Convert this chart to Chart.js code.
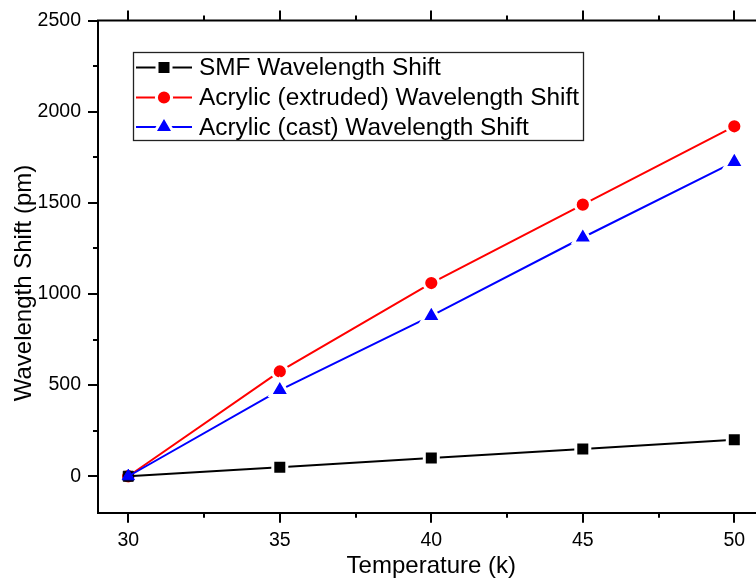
<!DOCTYPE html>
<html><head><meta charset="utf-8">
<script src="https://cdn.jsdelivr.net/npm/chart.js@4/dist/chart.umd.min.js"></script>
<style>
html,body{margin:0;padding:0;background:#fff;overflow:hidden;}
#wrap{position:relative;width:780px;height:580px;}
</style></head><body>
<div id="wrap"><canvas id="c" width="780" height="580"></canvas></div>
<script>
// ---- data ----
const temperatures = [30, 35, 40, 45, 50];
const smfShift = [0, 50, 100, 150, 200];
const extrudedShift = [0, 575, 1060, 1490, 1920];
const castShift = [0, 473, 880, 1310, 1725];
const xTickValues = [30, 35, 40, 45, 50];
const yTickValues = [0, 500, 1000, 1500, 2000, 2500];
const seriesNames = ['SMF Wavelength Shift', 'Acrylic (extruded) Wavelength Shift', 'Acrylic (cast) Wavelength Shift'];
const xTitle = 'Temperature (k)';
const yTitle = 'Wavelength Shift (pm)';

const FONT = '"Liberation Sans", Arial, sans-serif';
Chart.defaults.font.family = FONT;
Chart.defaults.color = '#000';

const toPts = arr => temperatures.map((t, i) => ({x: t, y: arr[i]}));

const styles = [
  {color: '#000000', style: 'rect', rGap: 9.9, rPlain: 7.1},
  {color: '#ff0000', style: 'circle', rGap: 7.6, rPlain: 5.7},
  {color: '#0000ff', style: 'triangle', rGap: 11.1, rPlain: 7.1}
];
const seriesData = [smfShift, extrudedShift, castShift];
const drawOrder = [1, 2, 0];

function mkDataset(k) {
  const s = styles[k];
  return {
    label: seriesNames[k],
    data: toPts(seriesData[k]),
    borderColor: s.color,
    backgroundColor: s.color,
    borderWidth: 2,
    pointStyle: s.style,
    pointBackgroundColor: s.color,
    pointBorderColor: ctx => ctx.dataIndex === 0 ? s.color : '#ffffff',
    pointBorderWidth: ctx => ctx.dataIndex === 0 ? 1 : 3,
    pointRadius: ctx => ctx.dataIndex === 0 ? s.rPlain : s.rGap,
    pointHoverRadius: ctx => ctx.dataIndex === 0 ? s.rPlain : s.rGap,
    tension: 0,
    order: drawOrder[k]
  };
}

function minorBetween(vals) {
  const out = [];
  for (let i = 0; i < vals.length - 1; i++) out.push((vals[i] + vals[i + 1]) / 2);
  return out;
}

const framePlugin = {
  id: 'frame',
  afterDraw(chart) {
    const ctx = chart.ctx, ca = chart.chartArea;
    const xs = chart.scales.x, ys = chart.scales.y;
    ctx.save();
    ctx.strokeStyle = '#000';
    ctx.lineWidth = 2;
    ctx.lineCap = 'butt';
    ctx.beginPath();
    ctx.moveTo(ca.left - 1, ca.top); ctx.lineTo(ca.right + 1, ca.top);
    ctx.moveTo(ca.right, ca.top); ctx.lineTo(ca.right, ca.bottom);
    ctx.stroke();
    const xMaj = xTickValues, xMin = minorBetween(xTickValues).concat([xTickValues[xTickValues.length - 1] + 2.5]);
    const tick = (px, y0, y1) => { ctx.moveTo(px, y0); ctx.lineTo(px, y1); };
    ctx.beginPath();
    xMaj.forEach(v => { const p = Math.round(xs.getPixelForValue(v)); tick(p, ca.bottom, ca.bottom + 10); tick(p, ca.top, ca.top - 10); });
    xMin.forEach(v => { if (v > xs.max) return; const p = Math.round(xs.getPixelForValue(v)); tick(p, ca.bottom, ca.bottom + 5); tick(p, ca.top, ca.top - 5); });
    const yMin = minorBetween(yTickValues);
    yTickValues.forEach(v => { const p = Math.round(ys.getPixelForValue(v)); ctx.moveTo(ca.left - 10, p); ctx.lineTo(ca.left, p); ctx.moveTo(ca.right, p); ctx.lineTo(ca.right + 10, p); });
    yMin.forEach(v => { const p = Math.round(ys.getPixelForValue(v)); ctx.moveTo(ca.left - 5, p); ctx.lineTo(ca.left, p); ctx.moveTo(ca.right, p); ctx.lineTo(ca.right + 5, p); });
    ctx.stroke();

    ctx.fillStyle = '#000';
    ctx.font = '24px ' + FONT;
    ctx.textAlign = 'center';
    ctx.textBaseline = 'middle';
    ctx.fillText(xTitle, (ca.left + ca.right) / 2, 566);
    ctx.save();
    ctx.translate(24, 283);
    ctx.rotate(-Math.PI / 2);
    ctx.fillText(yTitle, 0, 0);
    ctx.restore();

    const bx = 133.5, by = 52.5, bw = 450, bh = 88;
    ctx.fillStyle = '#fff';
    ctx.fillRect(bx, by, bw, bh);
    ctx.lineWidth = 1.3;
    ctx.strokeStyle = '#222';
    ctx.strokeRect(bx, by, bw, bh);
    const rows = [67.5, 97.5, 127];
    rows.forEach((ry, k) => {
      const s = styles[k];
      ctx.strokeStyle = s.color;
      ctx.lineWidth = 2;
      ctx.beginPath(); ctx.moveTo(136, ry); ctx.lineTo(192, ry); ctx.stroke();
      ctx.fillStyle = s.color;
      ctx.strokeStyle = '#fff';
      ctx.lineWidth = 3;
      Chart.helpers.drawPoint(ctx, {pointStyle: s.style, radius: s.rGap, borderWidth: 3, rotation: 0}, 164, ry);
      ctx.fillStyle = '#000';
      ctx.font = '24.4px ' + FONT;
      ctx.textAlign = 'left';
      ctx.textBaseline = 'middle';
      ctx.fillText(seriesNames[k], 199, ry + 1);
    });
    ctx.restore();
  }
};

new Chart(document.getElementById('c'), {
  type: 'line',
  data: { datasets: [0, 1, 2].map(mkDataset) },
  options: {
    responsive: false,
    animation: false,
    devicePixelRatio: 1,
    layout: { padding: { left: 0, top: 20.6, right: 15.4, bottom: 0 } },
    plugins: { legend: { display: false }, tooltip: { enabled: false } },
    scales: {
      x: {
        type: 'linear', position: 'bottom', min: 29, max: 51,
        grid: { display: false, drawTicks: false },
        border: { display: true, color: '#000', width: 2 },
        ticks: { font: { size: 19.5 }, color: '#000', padding: 16, maxRotation: 0, callback: v => String(v) },
        afterBuildTicks: s => { s.ticks = xTickValues.map(v => ({ value: v })); },
        afterFit: s => { s.height = 67.3; s.paddingLeft = 0; s.paddingRight = 0; }
      },
      y: {
        type: 'linear', position: 'left', min: -200, max: 2500,
        grid: { display: false, drawTicks: false },
        border: { display: true, color: '#000', width: 2 },
        ticks: { font: { size: 19.5 }, color: '#000', padding: 17, callback: v => String(v) },
        afterBuildTicks: s => { s.ticks = yTickValues.map(v => ({ value: v })); },
        afterFit: s => { s.width = 98; s.paddingTop = 0; s.paddingBottom = 0; }
      }
    }
  },
  plugins: [framePlugin]
});
</script>
</body></html>
